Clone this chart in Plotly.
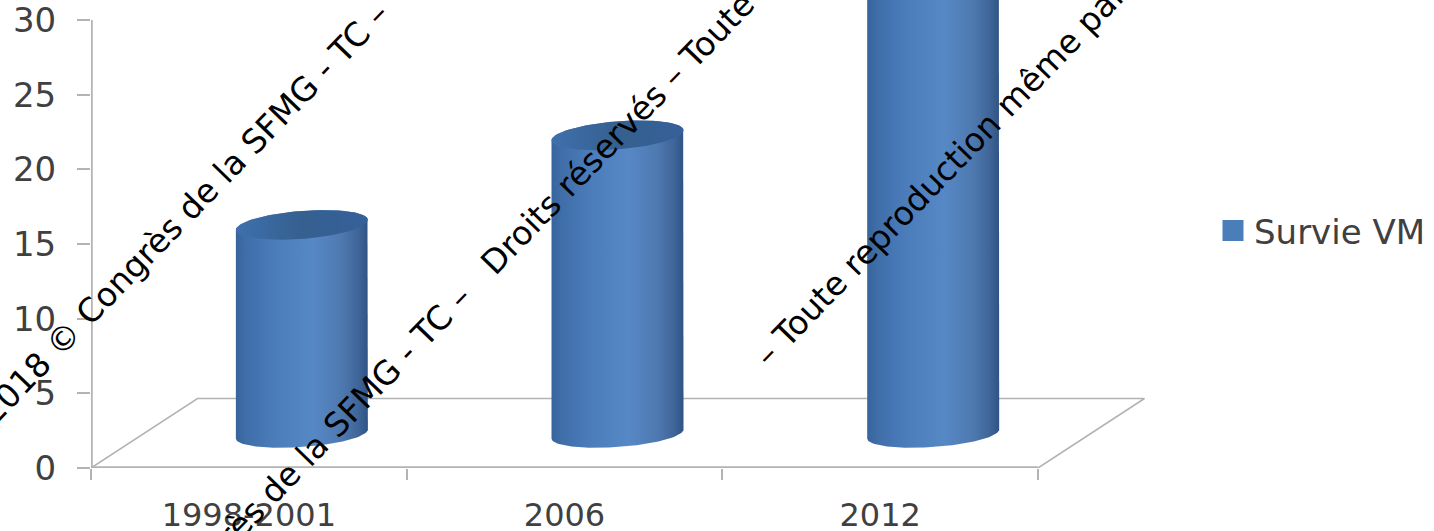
import numpy as np
import plotly.graph_objects as go

categories = ["1998-2001", "2006", "2012"]
survie_vm = [14, 20, 31]
y_ticks = [0, 5, 10, 15, 20, 25, 30]
x_bounds = [0, 1, 2, 3]
x_mids = [0.5, 1.5, 2.5]
series_name = "Survie VM"

watermarks = [
    ("2018 © Congrès de la SFMG - TC –", 184, 213),
    ("Congrès de la SFMG - TC –   Droits réservés – Toute", 456, 300),
    ("– Toute reproduction même partielle", 968, 145),
]

W, H = 1434, 531
X0, X3, Y30, Y0 = 91, 1038, 20, 468       # axis frame in page pixels
R_EDGE = 1152                             # plot area extends past the axis for the floor
PX_X = (X3 - X0) / 3
PX_Y = (Y0 - Y30) / 30
X_MAX = (R_EDGE - X0) / PX_X
Y_MAX = Y0 / PX_Y

GRAY = "#b3b3b3"
TEXT = "#404040"
FONT = "DejaVu Sans"
BODY_SCALE = [[0, "#38649c"], [0.08, "#3f6ea9"], [0.3, "#4c7dbb"], [0.58, "#5788c6"],
              [0.8, "#4e79b0"], [0.93, "#3f6598"], [1, "#2f5384"]]
CAP_SCALE = [[0, "#3f70ad"], [0.5, "#35608f"], [1, "#36609a"]]


def px_dx(p):
    return p / PX_X


def px_dy(p):
    return p / PX_Y


def cyl_paths(center, value):
    a = px_dx(66)
    y_bot = px_dy(Y0 - 434)
    y_top = y_bot + value
    t_low = np.linspace(np.pi, 0, 60)
    x_low = center + a * np.cos(t_low)
    y_low = y_bot + px_dy(4.5) * np.cos(t_low) - px_dy(13) * np.sin(t_low)
    t = np.linspace(0, 2 * np.pi, 120)
    x_cap = center + a * np.cos(t)
    y_cap = y_top + px_dy(5) * np.cos(t) + px_dy(14) * np.sin(t)
    t_up = np.linspace(0, np.pi, 60)
    x_up = center + a * np.cos(t_up)
    y_up = y_top + px_dy(5) * np.cos(t_up) + px_dy(14) * np.sin(t_up)
    xs = np.concatenate([x_low, x_up])
    ys = np.concatenate([y_low, y_up])
    return xs, ys, x_cap, y_cap


fig = go.Figure()

# Axis lines and floor back edges
d_x, d_y = px_dx(106.5), px_dy(69.5)
fig.add_trace(go.Scatter(
    x=[0, 0, 3], y=[30, 0, 0], mode="lines", line=dict(color=GRAY, width=3.5),
    showlegend=False, hoverinfo="skip",
))
fig.add_trace(go.Scatter(
    x=[0, d_x, 3 + d_x, 3], y=[0, d_y, d_y, 0], mode="lines",
    line=dict(color=GRAY, width=1.6),
    showlegend=False, hoverinfo="skip",
))

for i, v in enumerate(survie_vm):
    xs, ys, xc, yc = cyl_paths(i + 0.668, v)
    fig.add_trace(go.Scatter(
        x=xs, y=ys, mode="lines", fill="toself", line=dict(width=0, color="rgba(0,0,0,0)"),
        fillgradient=dict(type="horizontal", colorscale=BODY_SCALE),
        showlegend=False, hoverinfo="skip",
    ))
    fig.add_trace(go.Scatter(
        x=xc, y=yc, mode="lines", fill="toself", line=dict(width=0, color="rgba(0,0,0,0)"),
        fillgradient=dict(type="horizontal", colorscale=CAP_SCALE),
        showlegend=False, hoverinfo="skip",
    ))

# Legend entry
fig.add_trace(go.Scatter(
    x=x_mids, y=[None] * len(x_mids), mode="markers", name=series_name,
    marker=dict(symbol="square", size=16, color="#4a7ebb",
                line=dict(color="#4a7ebb", width=5)),
    showlegend=True, hoverinfo="skip",
))

annotations = [
    dict(text=t, xref="paper", yref="paper",
         x=(px - X0) / (R_EDGE - X0), y=(Y0 - py) / Y0,
         xanchor="center", yanchor="middle", textangle=-46, showarrow=False,
         font=dict(family=FONT, size=33, color="#000000"))
    for t, px, py in watermarks
]

fig.update_layout(
    width=W, height=H, autosize=False,
    margin=dict(l=X0, r=W - R_EDGE, t=0, b=H - Y0, pad=0, autoexpand=False),
    paper_bgcolor="#ffffff", plot_bgcolor="#ffffff",
    font=dict(family=FONT, color=TEXT),
    xaxis=dict(range=[0, X_MAX], tickvals=x_mids, ticktext=categories, ticks="",
               minor=dict(tickvals=x_bounds, ticks="outside", ticklen=11, tickcolor=GRAY,
                          tickwidth=1.5, showgrid=False),
               showline=False, showgrid=False, zeroline=False,
               tickfont=dict(family=FONT, size=32, color=TEXT),
               ticklabeloverflow="allow", ticklabelstandoff=25, fixedrange=True),
    yaxis=dict(range=[0, Y_MAX], tickvals=y_ticks, ticks="outside", ticklen=13,
               tickcolor=GRAY, tickwidth=1.5, showline=False, showgrid=False, zeroline=False,
               tickfont=dict(family=FONT, size=34, color=TEXT),
               ticklabeloverflow="allow", ticklabelstandoff=14, fixedrange=True),
    legend=dict(xref="container", yref="container", x=1212 / W, y=1 - 231 / H,
                xanchor="left", yanchor="middle", bgcolor="rgba(0,0,0,0)",
                font=dict(family=FONT, size=34, color=TEXT), itemwidth=32),
    annotations=annotations,
)

fig.write_html("out.html", config={"displayModeBar": False},
               post_script="document.body.style.margin='0';")
